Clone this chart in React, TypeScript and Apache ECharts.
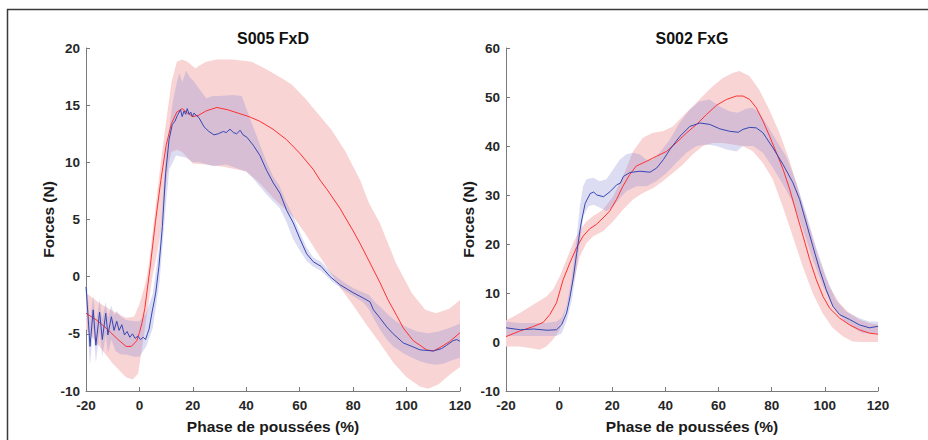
import React, { useEffect, useRef } from "react";
import * as echarts from "echarts";

// ---------- Panel 1 : S005 FxD ----------
const L_RED_X = [-20, -16, -12, -8, -5, -3, -1, 0, 1, 2, 4, 6, 8, 10, 12, 14, 16, 18, 20, 22, 25, 29, 33, 37, 41, 45, 50, 55, 60, 65, 67.6, 70, 75, 80, 82.6, 85, 90, 93, 96.3, 98.8, 102.5, 107.5, 110, 112.5, 116, 120];
const L_RED_Y = [-3.2, -3.8, -4.6, -5.5, -6.1, -6.1, -5.6, -4.9, -4.0, -2.8, 0.8, 4.8, 8.4, 11.5, 13.4, 14.4, 14.7, 14.3, 14.0, 14.1, 14.5, 14.8, 14.6, 14.3, 14.0, 13.6, 12.9, 12.0, 10.8, 9.4, 8.45, 7.7, 6.0, 4.0, 2.9, 1.8, -0.5, -2.0, -3.4, -4.5, -5.6, -6.4, -6.5, -6.2, -5.7, -4.9];

const L_RED_UP_X = [-20, -15, -10, -5, -2, 0, 2, 3, 4, 6, 8, 10, 12, 14, 16, 18, 20, 21, 22, 25, 29, 35, 42, 47, 53, 57, 62, 67, 72, 77, 82.6, 86, 90, 96, 102, 107, 111, 116, 120];
const L_RED_UP = [-1.4, -2.3, -3.0, -3.6, -3.5, -2.4, -0.8, 0.3, 2.0, 6.0, 10.0, 13.6, 17.0, 18.8, 19.0, 18.8, 18.4, 18.2, 18.4, 18.8, 19.0, 19.0, 18.8, 18.2, 17.4, 16.8, 15.6, 14.2, 12.8, 11.0, 8.45, 6.4, 4.7, 1.2, -1.45, -2.9, -3.2, -2.8, -2.05];
const L_RED_LO_X = [-20, -15, -10, -5, -2.5, -0.5, 1, 3, 5, 6, 7, 8, 9, 10, 11, 12, 14, 16, 18, 20, 25, 32, 40, 45, 50, 55, 58, 62, 66, 70, 75, 80, 85, 90, 95, 100, 105, 108, 112, 116, 120];
const L_RED_LO = [-4.6, -6.1, -7.6, -8.8, -9.0, -8.5, -6.2, -3.0, 0.2, 1.3, 2.5, 4.0, 6.0, 8.2, 10.0, 10.9, 11.1, 10.9, 10.4, 9.9, 9.8, 9.6, 9.2, 8.2, 6.9, 5.8, 5.1, 3.8, 2.3, 0.9, -0.9, -2.5, -4.2, -5.8, -7.5, -8.8, -9.6, -9.8, -9.4, -8.6, -7.9];

const L_BLUE_X = [-20, -19.5, -18.5, -17.3, -16.3, -14.9, -13.9, -12.6, -11.8, -10.5, -9.5, -8.5, -7.6, -6.6, -5.6, -4.6, -3.6, -2.6, -1.6, -0.6, 0.4, 1.4, 2.3, 3.0, 3.6, 4.2, 4.8, 5.5, 6.1, 7.3, 8.6, 9.8, 11.1, 12.3, 13.3, 14.2, 15.4, 16.0, 16.7, 17.3, 17.9, 18.6, 19.2, 19.8, 20.4, 22.3, 24.2, 26, 27.9, 29.5, 31.4, 32.5, 33.9, 35.2, 36.4, 37.7, 38.8, 40.2, 42.6, 45.1, 47.6, 50.1, 52.6, 55.1, 57.6, 60.1, 62.6, 65.1, 68, 71.4, 75, 80, 84, 86.3, 87.6, 90, 92.6, 95, 98.8, 102, 105, 110, 113, 115, 117.4, 118.8, 120];
const L_BLUE_Y = [-0.9, -2.5, -6.1, -2.9, -6.0, -3.1, -5.5, -3.2, -5.1, -3.5, -4.7, -3.9, -4.7, -4.2, -5.1, -4.8, -5.3, -5.0, -5.4, -5.2, -5.5, -5.3, -5.5, -5.0, -4.6, -3.8, -3.0, -2.2, -1.4, 0.9, 4.4, 9.0, 12.0, 13.3, 13.6, 14.1, 14.6, 14.0, 14.5, 14.2, 14.7, 14.2, 14.4, 14.0, 14.3, 13.9, 13.1, 12.7, 12.4, 12.5, 12.7, 12.6, 12.9, 12.6, 12.5, 12.8, 12.4, 12.2, 11.5, 10.6, 9.3, 8.2, 7.3, 5.8, 4.7, 3.3, 2.0, 1.3, 0.9, 0.0, -0.7, -1.4, -1.9, -2.2, -2.9, -3.6, -4.4, -5.0, -5.8, -6.1, -6.4, -6.5, -6.3, -6.0, -5.6, -5.5, -5.65];

const L_BLUE_UP_X = [-20, -19.5, -18.5, -17.3, -16.3, -14.9, -13.9, -12.6, -11.8, -10.5, -9.5, -8.5, -7, -5, -2, 0, 2.5, 5, 7.5, 10, 12.5, 14, 15, 16, 17.5, 19, 20, 22.5, 25, 27.5, 30, 35, 38.3, 40.2, 42.6, 45, 47.5, 50, 52.5, 55, 57.5, 60, 62.5, 65, 68, 72, 76, 80, 84, 86, 88, 90, 93, 96, 100, 104, 108, 112, 116, 120];
const L_BLUE_UP = [-0.3, -1.2, -4.0, -1.6, -4.0, -2.0, -3.7, -2.2, -3.6, -2.5, -3.4, -3.0, -3.5, -3.8, -3.9, -3.9, -3.2, -1.5, 2.8, 11.0, 15.3, 17.0, 17.8, 17.0, 18.0, 17.4, 17.2, 16.4, 15.6, 15.8, 15.8, 15.9, 15.8, 14.6, 13.1, 11.6, 10.1, 8.8, 7.9, 6.5, 5.3, 3.9, 2.6, 1.7, 1.3, 0.3, -0.4, -1.0, -1.4, -1.6, -2.2, -2.6, -3.3, -3.9, -4.4, -4.8, -4.95, -4.8, -4.5, -4.1];
const L_BLUE_LO_X = [-20, -19.5, -18.5, -17.3, -16.3, -14.9, -13.9, -12.6, -11.8, -10.5, -9, -7, -5, -2, 0, 2.5, 5, 7.5, 10, 11.2, 13.7, 17.5, 20, 22.5, 27.5, 32.5, 37.5, 40, 42.5, 45, 47.5, 50, 52.5, 55, 57.5, 60, 62.5, 65, 68, 72, 76, 80, 84, 86, 88, 90, 92.6, 95, 98.8, 102, 105, 108, 111, 114, 117, 120];
const L_BLUE_LO = [-2.0, -4.5, -7.8, -4.5, -7.5, -4.8, -7.0, -5.0, -6.7, -5.5, -6.5, -6.8, -6.8, -7.0, -7.0, -6.1, -4.5, -0.5, 6.5, 9.4, 10.6, 10.4, 10.0, 10.0, 9.65, 9.8, 9.4, 9.2, 8.6, 7.9, 7.2, 6.6, 6.0, 4.8, 3.3, 2.3, 1.4, 0.9, 0.5, -0.4, -1.1, -1.7, -2.3, -2.9, -3.8, -4.6, -5.5, -6.1, -6.7, -7.1, -7.4, -7.6, -7.7, -7.6, -7.3, -7.1];

// ---------- Panel 2 : S002 FxG ----------
const R_RED_X = [-20, -15, -10, -6, -3.5, -1, 1.5, 4, 6.5, 9, 11.5, 14, 16.5, 19, 21.6, 24, 26.6, 29, 33, 36.6, 40.4, 44, 48, 51.7, 55.4, 59.2, 63, 66.7, 69.2, 71.7, 74.2, 76.7, 79.2, 81.8, 84.3, 86.8, 89.3, 91.8, 94.3, 96.8, 99.3, 101.8, 105.5, 109.3, 113, 116.8, 120];
const R_RED_Y = [1.1, 2.2, 3.1, 4.0, 5.6, 8.0, 12.7, 16.1, 19.2, 21.6, 23.1, 24.0, 25.3, 26.7, 29.1, 31.8, 34.2, 35.9, 36.9, 37.9, 38.9, 40.6, 42.7, 44.4, 46.4, 48.3, 49.5, 50.2, 50.2, 49.5, 47.8, 45.1, 42.0, 38.6, 35.2, 31.1, 26.3, 21.6, 16.8, 12.7, 9.3, 6.9, 4.9, 3.5, 2.5, 1.8, 1.6];

const R_RED_UP_X = [-20, -14.8, -9.8, -4.8, -2.3, 0.25, 2.75, 5.3, 7.8, 10.3, 12.8, 16.5, 20.3, 24, 27.8, 31.5, 35.3, 39, 42.8, 46.6, 50.3, 54.1, 57.8, 61.6, 65.3, 67.8, 71.6, 75.3, 79.1, 82.9, 86.6, 90.4, 94.1, 97.9, 101.6, 105.4, 109.1, 112.9, 116.6, 120];
const R_RED_UP = [4.4, 5.9, 7.6, 9.3, 10.7, 13.4, 16.8, 20.2, 22.9, 24.6, 25.7, 27.0, 29.7, 33.8, 38.9, 41.7, 42.7, 43.0, 44.0, 46.1, 48.1, 50.2, 52.2, 53.9, 54.9, 55.3, 54.3, 51.5, 47.4, 42.7, 37.2, 30.4, 23.6, 16.8, 11.4, 8.0, 5.9, 4.6, 3.9, 3.5];
const R_RED_LO_X = [-20, -14.8, -11.1, -7.3, -4.8, -2.3, 0.25, 2.75, 5.3, 7.8, 10.3, 12.8, 16.5, 20.3, 24, 27.8, 31.5, 35.3, 39, 42.8, 46.6, 50.3, 54.1, 57.8, 61.6, 65.3, 69, 72.8, 76.6, 80.4, 84.1, 87.9, 91.6, 95.4, 99.1, 102.9, 106.6, 110.4, 114.1, 120];
const R_RED_LO = [-0.9, -0.9, -1.2, -1.6, -0.9, 0.5, 2.5, 7.0, 12.0, 17.5, 20.2, 21.6, 22.6, 24.6, 27.0, 29.1, 30.4, 31.4, 32.8, 34.5, 36.2, 38.3, 40.0, 40.6, 40.6, 40.3, 40.0, 39.0, 36.6, 33.2, 27.7, 21.6, 15.5, 10.0, 5.9, 2.9, 1.2, 0.1, 0.0, 0.0];

const R_BLUE_X = [-20, -14.6, -9.6, -4.6, -1, 0.9, 2.8, 4.1, 5.3, 6.6, 7.9, 8.5, 9.8, 11.7, 13, 14.2, 16.7, 19.2, 21.7, 23, 24.2, 26.7, 30.4, 34.2, 36.7, 39.2, 41.7, 45.5, 49.2, 53, 56.7, 60.5, 64.2, 67.4, 69.2, 71.7, 74.2, 76.7, 80.5, 84.3, 88, 90.5, 93, 95.5, 98, 100.5, 103, 105.5, 109.3, 113, 116.8, 120];
const R_BLUE_Y = [2.9, 2.5, 2.65, 2.4, 2.5, 3.5, 5.9, 9.2, 13.0, 18.1, 23.0, 24.9, 28.3, 30.3, 30.6, 30.0, 29.65, 30.7, 32.1, 32.4, 33.8, 34.6, 34.85, 34.65, 35.5, 37.2, 39.3, 42.0, 44.0, 44.7, 44.4, 43.5, 43.0, 42.8, 43.4, 43.8, 43.7, 42.7, 39.6, 36.2, 32.5, 29.1, 24.3, 19.5, 14.8, 10.7, 7.3, 5.6, 4.6, 3.5, 2.9, 3.2];

const R_BLUE_UP_X = [-20, -15, -5, -1, 0.9, 2.75, 4.6, 6.5, 7.8, 9.0, 10.3, 12.8, 15.3, 17.8, 20.3, 22.8, 25.3, 27.8, 30.3, 32.8, 35.3, 37.8, 41.6, 45.3, 49.1, 52.8, 56.6, 60.3, 64.1, 67.2, 70.3, 72.8, 75.3, 77.8, 81.6, 85.4, 89.1, 92.9, 96.6, 100.4, 104.1, 107.9, 112.9, 116.6, 120];
const R_BLUE_UP = [4.2, 3.9, 3.9, 4.2, 4.9, 7.3, 12.7, 20.9, 27.7, 31.8, 33.2, 33.5, 32.8, 33.2, 35.2, 37.2, 38.3, 38.6, 38.3, 37.2, 37.2, 38.6, 41.3, 44.7, 47.4, 49.1, 49.5, 48.1, 47.1, 46.8, 47.6, 47.8, 46.8, 44.7, 41.3, 37.9, 32.8, 26.3, 19.5, 13.4, 8.6, 6.3, 4.9, 4.2, 4.2];
const R_BLUE_LO_X = [-20, -15, -5, -1, 1, 3, 4.8, 6.7, 7.9, 9.2, 11, 12.9, 15.4, 17.9, 20.4, 22.9, 25.4, 29.1, 32.9, 36.6, 40.4, 44.1, 47.9, 51.7, 55.4, 59.2, 63, 66.7, 69.2, 73, 76.7, 80.5, 84.3, 88, 91.8, 95.5, 99.3, 103, 106.8, 110.5, 114.3, 120];
const R_BLUE_LO = [1.2, 1.2, 1.2, 1.2, 1.8, 4.6, 8.6, 15.5, 20.9, 25.7, 27.7, 28.0, 27.4, 26.7, 27.7, 29.4, 30.8, 31.8, 31.8, 32.8, 34.5, 36.6, 38.6, 40.0, 40.3, 40.0, 39.3, 38.9, 40.0, 40.0, 38.6, 35.5, 32.1, 28.4, 22.9, 16.8, 11.4, 7.3, 4.6, 2.9, 1.8, 1.8];

const TITLES = ["S005 FxD", "S002 FxG"];
const X_NAME = "Phase de poussées (%)";
const Y_NAME = "Forces (N)";
const X_RANGE = [-20, 120, 20];
const Y_RANGES = [[-10, 20, 5], [-10, 60, 10]];

const FONT = '"Liberation Sans", Arial, Helvetica, sans-serif';
const RED = "#ff3030";
const BLUE = "#3546b2";
const PINK = "#f9d4d4";
const LAV = "rgba(140,140,215,0.30)";

const zip = (xs: number[], ys: number[]) => xs.map((x, i) => [x, ys[i]]);

function band(idx: number, upX: number[], up: number[], loX: number[], lo: number[], fill: string) {
  const pts = zip(upX, up).concat(zip(loX, lo).reverse());
  return {
    type: "custom",
    xAxisIndex: idx,
    yAxisIndex: idx,
    coordinateSystem: "cartesian2d",
    silent: true,
    data: [pts[0]],
    renderItem: (_params: any, api: any) => ({
      type: "polygon",
      shape: { points: pts.map((p) => api.coord(p)) },
      style: { fill, stroke: null },
    }),
  };
}

function line(idx: number, xs: number[], ys: number[], color: string) {
  return {
    type: "line",
    xAxisIndex: idx,
    yAxisIndex: idx,
    data: zip(xs, ys),
    symbol: "none",
    showSymbol: false,
    silent: true,
    lineStyle: { color, width: 1 },
  };
}

const axisCommon = {
  axisLine: { show: true, onZero: false, lineStyle: { color: "#7a7a7a", width: 1 } },
  axisTick: { show: true, inside: true, length: 4, lineStyle: { color: "#7a7a7a", width: 1 } },
  splitLine: { show: false },
  axisLabel: { color: "#262626", fontWeight: "bold", fontSize: 13.5, fontFamily: FONT },
  nameTextStyle: { color: "#1a1a1a", fontWeight: "bold", fontSize: 15.5, fontFamily: FONT },
  nameLocation: "middle",
};

export default function App() {
  const ref = useRef<HTMLDivElement>(null);
  useEffect(() => {
    document.body.style.margin = "0";
    const chart = echarts.init(ref.current!, null, { renderer: "svg" });
    const grids = [
      { left: 86, top: 48, width: 374, height: 343 },
      { left: 506, top: 48, width: 372, height: 343 },
    ];
    chart.setOption({
      animation: false,
      backgroundColor: "#ffffff",
      grid: grids,
      xAxis: [0, 1].map((i) => ({
        ...axisCommon,
        gridIndex: i,
        type: "value",
        min: X_RANGE[0],
        max: X_RANGE[1],
        interval: X_RANGE[2],
        name: X_NAME,
        nameGap: 27,
        axisLabel: { ...axisCommon.axisLabel, margin: 7 },
      })),
      yAxis: [0, 1].map((i) => ({
        ...axisCommon,
        gridIndex: i,
        type: "value",
        min: Y_RANGES[i][0],
        max: Y_RANGES[i][1],
        interval: Y_RANGES[i][2],
        name: Y_NAME,
        nameRotate: 90,
        nameGap: 29,
        axisLabel: { ...axisCommon.axisLabel, margin: 6 },
      })),
      graphic: [
        { type: "line", shape: { x1: 7, y1: 9.5, x2: 928, y2: 9.5 }, style: { stroke: "#3a3a3a", lineWidth: 1.5 }, silent: true },
        { type: "line", shape: { x1: 7.5, y1: 9, x2: 7.5, y2: 440 }, style: { stroke: "#3a3a3a", lineWidth: 1.5 }, silent: true },
        ...TITLES.map((t, i) => ({
          type: "text",
          x: grids[i].left + grids[i].width / 2,
          y: 38,
          silent: true,
          style: { text: t, font: `bold 16px ${FONT}`, fill: "#111", textAlign: "center", textVerticalAlign: "middle" },
        })),
      ],
      series: [
        band(0, L_RED_UP_X, L_RED_UP, L_RED_LO_X, L_RED_LO, PINK),
        line(0, L_RED_X, L_RED_Y, RED),
        band(0, L_BLUE_UP_X, L_BLUE_UP, L_BLUE_LO_X, L_BLUE_LO, LAV),
        line(0, L_BLUE_X, L_BLUE_Y, BLUE),
        band(1, R_RED_UP_X, R_RED_UP, R_RED_LO_X, R_RED_LO, PINK),
        line(1, R_RED_X, R_RED_Y, RED),
        band(1, R_BLUE_UP_X, R_BLUE_UP, R_BLUE_LO_X, R_BLUE_LO, LAV),
        line(1, R_BLUE_X, R_BLUE_Y, BLUE),
      ],
    });
    return () => chart.dispose();
  }, []);
  return <div ref={ref} style={{ width: 928, height: 440 }} />;
}
